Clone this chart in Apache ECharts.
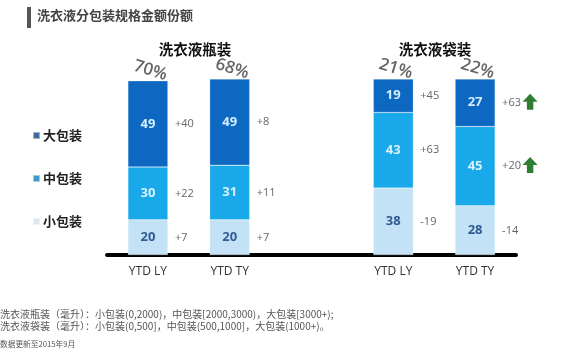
<!DOCTYPE html>
<html><head><meta charset="utf-8">
<script src="https://cdn.jsdelivr.net/npm/echarts@6/dist/echarts.min.js"></script>
<style>html,body{margin:0;padding:0;background:#fff}#c{width:573px;height:361px}</style>
</head><body><div id="c"></div>
<script>
var categories = ['YTD LY', 'YTD TY', '', 'YTD LY ', 'YTD TY '];
var smallPack = [20, 20, null, 38, 28];
var midPack = [30, 31, null, 43, 45];
var largePack = [49, 49, null, 19, 27];
var smallChange = ['+7', '+7', '', '-19', '-14'];
var midChange = ['+22', '+11', '', '+63', '+20'];
var largeChange = ['+40', '+8', '', '+45', '+63'];
var shares = ['70%', '68%', '', '21%', '22%'];
var upArrows = [{series: 'mid', index: 4}, {series: 'large', index: 4}];
var groupTitles = ['洗衣液瓶装', '洗衣液袋装'];
var seriesNames = ['大包装', '中包装', '小包装'];

var arrowPath = 'path://M7,0 L14,7 L10,7 L10,14 L4,14 L4,7 L0,7 Z';
function arrowPoints(key) {
  return upArrows.filter(function (a) { return a.series === key; }).map(function (a) {
    var i = a.index, y;
    if (key === 'mid') y = smallPack[i] + midPack[i] / 2;
    else y = smallPack[i] + midPack[i] + largePack[i] / 2;
    return {coord: [i, y]};
  });
}
var arrowMark = function (key) {
  return {
    symbol: arrowPath, symbolSize: [15, 16], symbolOffset: [55, -1],
    itemStyle: {color: '#2e7d32'}, label: {show: false}, silent: true,
    data: arrowPoints(key)
  };
};
function insideLabel(inColor) {
  return {
    show: true, position: 'inside', fontSize: 13, fontWeight: 'bold', color: inColor,
    fontFamily: 'Open Sans, sans-serif',
    formatter: function (p) { return p.value; }
  };
}
var colors = {large: '#0c68c0', mid: '#19a8ea', small: '#c3e2f5'};
function makeSeries(name, data, color, inColor, key) {
  return {
    name: name, type: 'bar', stack: 'a', barWidth: 40, data: data,
    itemStyle: {color: color, borderColor: 'rgba(255,255,255,0.5)', borderWidth: 0.5},
    label: insideLabel(inColor),
    markPoint: arrowMark(key)
  };
}
var sSmall = makeSeries(seriesNames[2], smallPack, colors.small, '#2f5b92', 'small');
var sMid = makeSeries(seriesNames[1], midPack, colors.mid, '#d5f2ff', 'mid');
var sLarge = makeSeries(seriesNames[0], largePack, colors.large, '#d5eeff', 'large');

function changeSeries(changes, values) {
  return {
    type: 'bar', stack: 'c', barWidth: 40, barGap: '-100%', silent: true,
    data: values.slice(),
    itemStyle: {color: 'transparent'},
    label: {
      show: true, position: 'right', distance: 7, fontSize: 11, color: '#666',
      fontFamily: 'Open Sans, sans-serif',
      formatter: function (p) { return changes[p.dataIndex]; }
    }
  };
}
var cSmall = changeSeries(smallChange, smallPack);
var cMid = changeSeries(midChange, midPack);
var cLarge = changeSeries(largeChange, largePack);
var shareSeries = {
  type: 'bar', stack: 'c', barWidth: 40, silent: true,
  data: categories.map(function () { return 0; }),
  itemStyle: {color: 'transparent'},
  label: {
    show: true, position: 'top', distance: 2, rotate: -17, fontSize: 17, fontWeight: 600, color: '#666',
    fontFamily: 'Open Sans, sans-serif',
    formatter: function (p) { return shares[p.dataIndex]; }
  }
};

var chart = echarts.init(document.getElementById('c'));
chart.setOption({
  backgroundColor: '#fff',
  animation: false,
  grid: {left: 107, right: 57, top: 79, bottom: 106, containLabel: false},
  legend: {
    data: [
      {name: seriesNames[0], itemStyle: {color: '#3d6b96'}},
      {name: seriesNames[1], itemStyle: {color: '#3b9cc8'}},
      {name: seriesNames[2], itemStyle: {color: '#dde6ee'}}
    ],
    orient: 'vertical', left: 27, top: 124, itemWidth: 7, itemHeight: 7, itemGap: 30,
    icon: 'rect', selectedMode: false,
    textStyle: {fontSize: 13, fontWeight: 'bold', color: '#222', padding: [0, 0, 0, -2],
      fontFamily: 'Noto Sans CJK SC, sans-serif'}
  },
  xAxis: {
    type: 'category', data: categories,
    axisLine: {lineStyle: {color: '#000', width: 4}},
    axisTick: {show: false},
    axisLabel: {fontSize: 12, color: '#333', margin: 11, fontFamily: 'Open Sans, sans-serif',
      formatter: function (v) { return v.trim(); }}
  },
  yAxis: {type: 'value', min: 0, max: 100, show: false, splitLine: {show: false}},
  series: [sSmall, sMid, sLarge, cSmall, cMid, cLarge, shareSeries],
  graphic: [
    {type: 'rect', left: 27, top: 7, shape: {width: 4, height: 21}, style: {fill: '#555'}},
    {type: 'text', left: 37, top: 9, style: {text: '洗衣液分包装规格金额份额', fontSize: 13, fontWeight: 'bold', fill: '#444', fontFamily: 'Noto Sans CJK SC, sans-serif'}},
    {type: 'text', x: 195, y: 49, style: {text: groupTitles[0], fontSize: 14.5, fontWeight: 'bold', fill: '#111', align: 'center', verticalAlign: 'middle', fontFamily: 'Noto Sans CJK SC, sans-serif'}},
    {type: 'text', x: 435, y: 49, style: {text: groupTitles[1], fontSize: 14.5, fontWeight: 'bold', fill: '#111', align: 'center', verticalAlign: 'middle', fontFamily: 'Noto Sans CJK SC, sans-serif'}},
    {type: 'text', left: 0, top: 309, style: {text: '洗衣液瓶装（毫升）：小包装(0,2000)，中包装[2000,3000)，大包装[3000+);', fontSize: 10, fill: '#555', fontFamily: 'Noto Sans CJK SC, sans-serif'}},
    {type: 'text', left: 0, top: 321, style: {text: '洗衣液袋装（毫升）：小包装(0,500]，中包装(500,1000]，大包装(1000+)。', fontSize: 10, fill: '#555', fontFamily: 'Noto Sans CJK SC, sans-serif'}},
    {type: 'text', left: 0, top: 340, style: {text: '数据更新至2015年9月', fontSize: 7.7, fill: '#555', fontFamily: 'Noto Sans CJK SC, sans-serif'}}
  ]
});
</script></body></html>
